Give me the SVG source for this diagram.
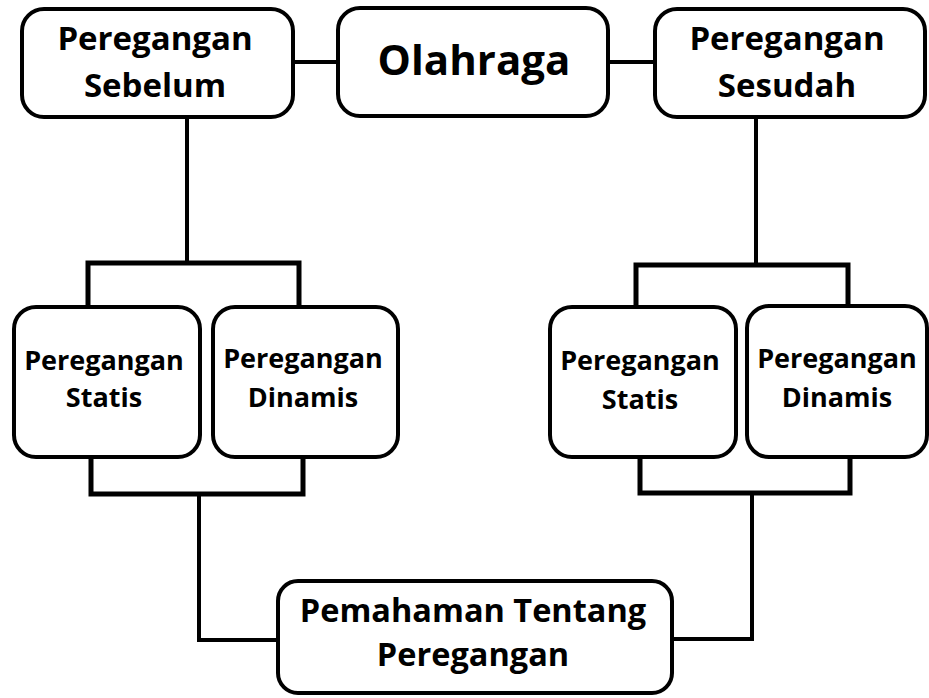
<svg xmlns="http://www.w3.org/2000/svg" width="929" height="698" viewBox="0 0 929 698">
<style>
.box{fill:#fff;stroke:#000;stroke-width:4}
.ln{fill:none;stroke:#000;stroke-width:4;stroke-linecap:square;stroke-linejoin:miter}
.br{stroke-width:5}
.t{font-family:"Open Sans","Noto Sans","Liberation Sans",sans-serif;font-weight:700;fill:#000;text-anchor:middle}
.t1{font-size:33px}
.t2{font-size:27px}
.t3{font-size:32.5px}
.t0{font-size:42px}
</style>
<rect width="929" height="698" fill="#fff"/>
<g id="connectors">
<path class="ln" d="M293 62 H338"/>
<path class="ln" d="M608 62 H655"/>
<path class="ln" d="M187 117 V263"/>
<path class="ln br" d="M88 304 V263 H299 V304"/>
<path class="ln br" d="M91 457 V494 H303 V457"/>
<path class="ln" d="M199 494 V640 H278"/>
<path class="ln" d="M756 117 V265"/>
<path class="ln br" d="M636 304 V265 H848 V304"/>
<path class="ln br" d="M640 457 V493 H850 V457"/>
<path class="ln" d="M752 493 V639 H672"/>
</g>
<g id="node-sebelum">
<rect class="box" x="22" y="9" width="271" height="108" rx="22"/>
<text class="t t1" x="155" y="50">Peregangan</text>
<text class="t t1" x="155" y="97">Sebelum</text>
</g>
<g id="node-olahraga">
<rect class="box" x="338" y="8" width="270" height="108" rx="22"/>
<text class="t t0" x="474" y="75">Olahraga</text>
</g>
<g id="node-sesudah">
<rect class="box" x="655" y="9" width="270" height="108" rx="22"/>
<text class="t t1" x="787" y="50">Peregangan</text>
<text class="t t1" x="787" y="97">Sesudah</text>
</g>
<g id="node-statis-1">
<rect class="box" x="14" y="307" width="186" height="150" rx="22"/>
<text class="t t2" x="104" y="370">Peregangan</text>
<text class="t t2" x="104" y="407">Statis</text>
</g>
<g id="node-dinamis-1">
<rect class="box" x="213" y="307" width="185" height="150" rx="22"/>
<text class="t t2" x="303" y="368">Peregangan</text>
<text class="t t2" x="303" y="407">Dinamis</text>
</g>
<g id="node-statis-2">
<rect class="box" x="550" y="307" width="186" height="150" rx="22"/>
<text class="t t2" x="640" y="370">Peregangan</text>
<text class="t t2" x="640" y="409">Statis</text>
</g>
<g id="node-dinamis-2">
<rect class="box" x="747" y="306" width="180" height="151" rx="22"/>
<text class="t t2" x="837" y="368">Peregangan</text>
<text class="t t2" x="837" y="407">Dinamis</text>
</g>
<g id="node-pemahaman">
<rect class="box" x="278" y="581" width="394" height="112" rx="20"/>
<text class="t t3" x="473" y="622">Pemahaman Tentang</text>
<text class="t t3" x="473" y="666">Peregangan</text>
</g>
</svg>
